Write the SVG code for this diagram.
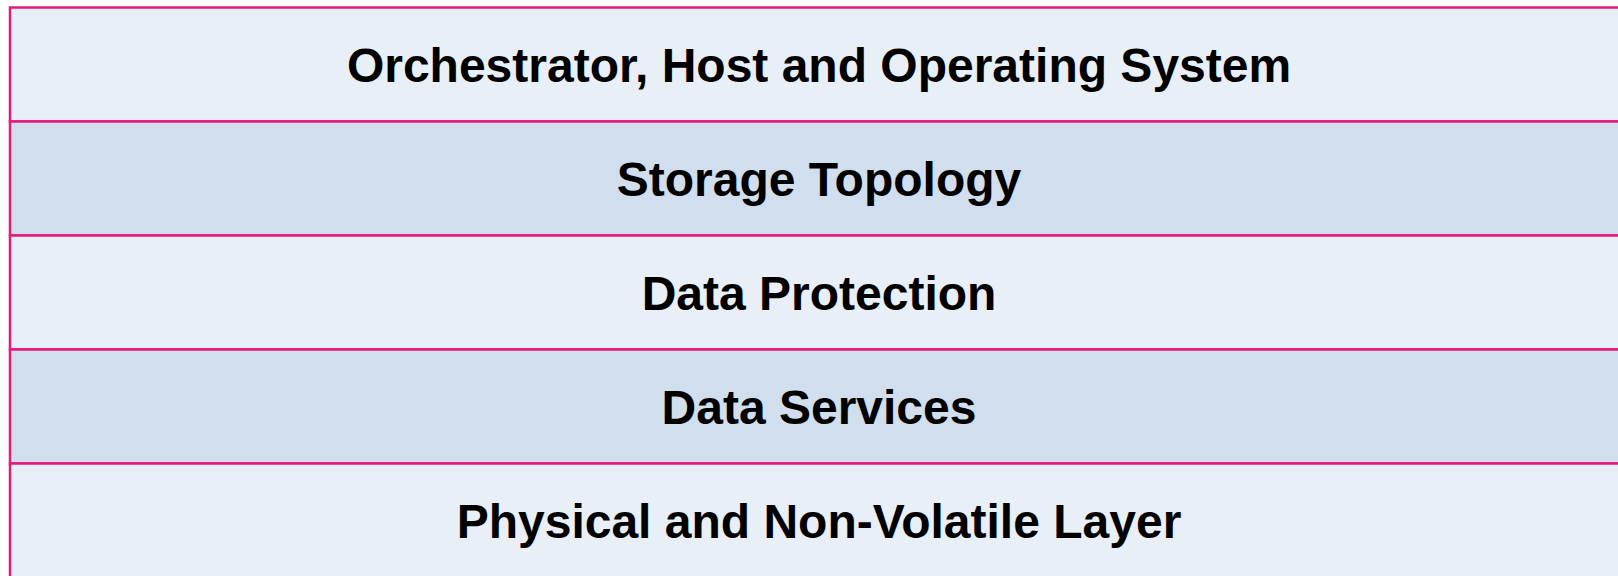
<svg xmlns="http://www.w3.org/2000/svg" width="1618" height="576" viewBox="0 0 1618 576">
<style>
.light{fill:#E9EFF7;stroke:#E6187A;stroke-width:2.5}
.dark{fill:#D0DEEE;stroke:#E6187A;stroke-width:2.5}
.t{font-family:"Liberation Sans",Arial,sans-serif;font-weight:bold;font-size:48px;fill:#000;text-anchor:middle}
</style>
<rect width="1618" height="576" fill="#ffffff"/>
<g id="layer1"><rect class="light" x="10" y="7.5" width="1630" height="114"/><text class="t" x="819" y="82">Orchestrator, Host and Operating System</text></g>
<g id="layer2"><rect class="dark" x="10" y="121.5" width="1630" height="114"/><text class="t" x="819" y="196">Storage Topology</text></g>
<g id="layer3"><rect class="light" x="10" y="235.5" width="1630" height="114"/><text class="t" x="819" y="310">Data Protection</text></g>
<g id="layer4"><rect class="dark" x="10" y="349.5" width="1630" height="114"/><text class="t" x="819" y="424">Data Services</text></g>
<g id="layer5"><rect class="light" x="10" y="463.5" width="1630" height="130"/><text class="t" x="819" y="538">Physical and Non-Volatile Layer</text></g>
<g id="connectors"></g>
</svg>
